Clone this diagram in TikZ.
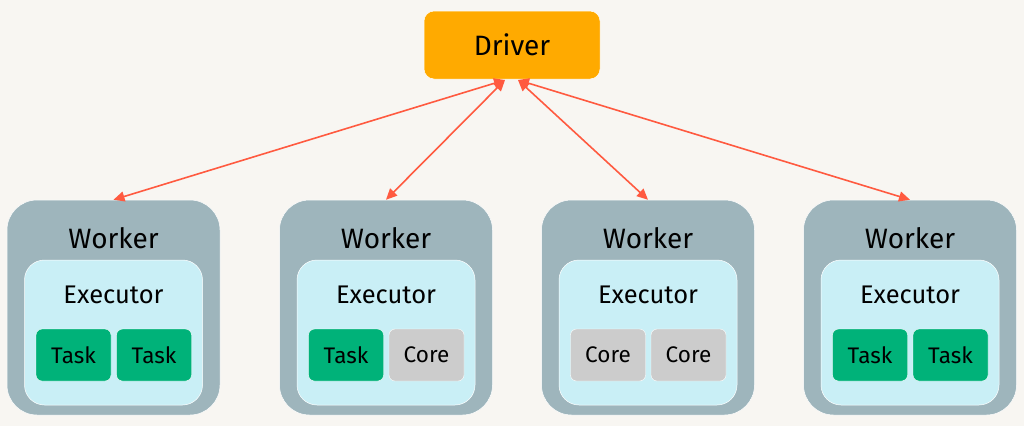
\documentclass[tikz,border=0pt]{standalone}
\usepackage{fontspec}
\setmainfont{Fira Sans}
\usetikzlibrary{arrows.meta}

\definecolor{bgcol}{HTML}{F8F6F2}
\definecolor{drivercol}{HTML}{FFAA00}
\definecolor{workercol}{HTML}{9EB5BC}
\definecolor{execcol}{HTML}{C9EFF6}
\definecolor{taskcol}{HTML}{00B279}
\definecolor{corecol}{HTML}{CCCCCC}
\definecolor{linkcol}{HTML}{FF5A40}

\tikzset{
  driverbox/.style={fill=drivercol, draw=white, line width=0.5pt, rounded corners=10pt,
    minimum width=176pt, minimum height=68pt, font=\fontsize{28}{32}\selectfont},
  workerbox/.style={fill=workercol, draw=white, line width=0.5pt, rounded corners=30pt,
    minimum width=213pt, minimum height=215pt},
  execbox/.style={fill=execcol, draw=white, line width=0.5pt, rounded corners=20pt,
    minimum width=178pt, minimum height=145pt},
  slotbox/.style={draw=white, line width=0.4pt, rounded corners=6pt,
    minimum width=75pt, minimum height=52pt, font=\fontsize{22.5}{26}\selectfont},
  taskbox/.style={slotbox, fill=taskcol},
  corebox/.style={slotbox, fill=corecol},
  link/.style={draw=linkcol, line width=1.6pt, {Triangle[length=11pt,width=10pt]}-{Triangle[length=11pt,width=10pt]}}
}

\begin{document}
\begin{tikzpicture}[x=1pt, y=-1pt]
  \fill[bgcol] (0,0) rectangle (1024,426);
  \useasboundingbox (0,0) rectangle (1024,426);

  \node[driverbox] (driver) at (512,45) {Driver};
  \coordinate (dl) at (505,80);
  \coordinate (dr) at (518,80);

  % workers: index / centre x
  \foreach \i/\cx in {1/113.5, 2/386, 3/648, 4/910} {
    \node[workerbox] (w\i) at (\cx,307.5) {};
    \node[font=\fontsize{28}{32}\selectfont] (wl\i) at (\cx,238) {Worker};
    \node[execbox] (e\i) at (\cx,332.5) {};
    \node[font=\fontsize{25.5}{29}\selectfont] (el\i) at (\cx,295) {Executor};
  }

  \node[taskbox] (s1a) at (73.5,355) {Task};
  \node[taskbox] (s1b) at (154,355) {Task};
  \node[taskbox] (s2a) at (346,355) {Task};
  \node[corebox] (s2b) at (426.5,355) {Core};
  \node[corebox] (s3a) at (608,355) {Core};
  \node[corebox] (s3b) at (688.5,355) {Core};
  \node[taskbox] (s4a) at (870,355) {Task};
  \node[taskbox] (s4b) at (950.5,355) {Task};

  \draw[link] (dl) -- (w1.north);
  \draw[link] (dl) -- (w2.north);
  \draw[link] (dr) -- (w3.north);
  \draw[link] (dr) -- (w4.north);
\end{tikzpicture}
\end{document}
